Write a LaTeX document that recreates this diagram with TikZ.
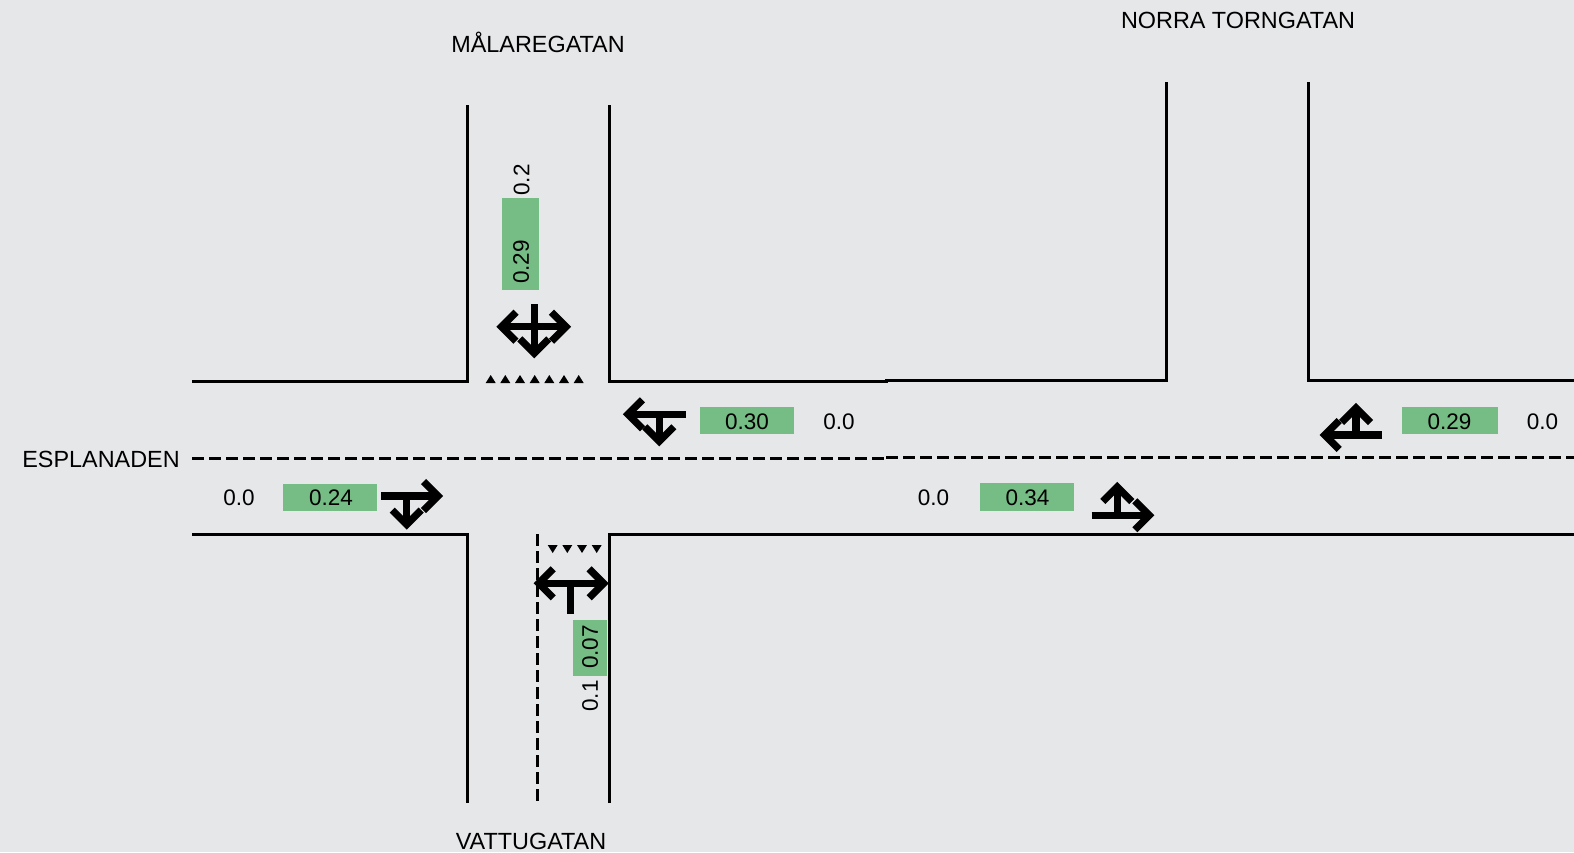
\documentclass[tikz,border=0pt]{standalone}
\usepackage{fontspec}
\setmainfont{Liberation Sans}
\definecolor{paper}{HTML}{E6E7E9}
\definecolor{flowgreen}{HTML}{76BC85}
\tikzset{
  curb/.style={line width=3pt},
  median/.style={line width=3pt,dash pattern=on 12pt off 5pt},
  lane/.style={line width=7.2pt,miter limit=10},
  label/.style={inner sep=0pt,font=\fontsize{22.5}{26}\selectfont},
  street/.style={label,font=\fontsize{23.4}{26}\selectfont},
  flow/.style={fill=flowgreen,inner sep=0pt},
  chevron/.pic={\draw[lane] (-14.5,-14.5) -- (0,0) -- (-14.5,14.5);},
  crossing/.pic={\fill (-5,4) -- (5,4) -- (0,-4) -- cycle;}
}
\begin{document}
\begin{tikzpicture}[x=1pt,y=-1pt]
\useasboundingbox[fill=paper] (0,0) rectangle (1574,852);
% curbs
\draw[curb] (192,381) -- (467.8,381) -- (467.8,105);
\draw[curb] (609,105) -- (609,381) -- (886,381) -- (886,380) -- (1166,380) -- (1166,82);
\draw[curb] (1308.5,82) -- (1308.5,380) -- (1574,380);
\draw[curb] (192,534) -- (467.8,534) -- (467.8,803);
\draw[curb] (609,803) -- (609,534) -- (1574,534);
\draw[median] (192,458.5) -- (886,458.5);
\draw[median] (886,457.5) -- (1574,457.5);
\draw[median] (537.7,534) -- (537.7,803);
% crossings
\foreach \x in {490.7,505.3,520,534.7,549.3,564,578.7}
  \pic at (\x,379) {crossing};
\foreach \x in {552.7,567.3,582,596.7}
  \pic[rotate=180] at (\x,549) {crossing};
% flow boxes
\node[flow,minimum width=37.3pt,minimum height=92pt] (boxN) at (520.7,244) {};
\node[flow,minimum width=94pt,minimum height=27.3pt] (boxE) at (747,420.4) {};
\node[flow,minimum width=94pt,minimum height=27pt] (boxW) at (330.2,497.5) {};
\node[flow,minimum width=33.7pt,minimum height=56pt] (boxS) at (590.2,648) {};
\node[flow,minimum width=94pt,minimum height=28pt] (boxM) at (1027,497) {};
\node[flow,minimum width=96pt,minimum height=27.5pt] (boxR) at (1450,420.3) {};
% values
\node[label,rotate=90] (flowN) at (521,262) {0.29};
\node[label,rotate=90] (restN) at (521.5,180) {0.2};
\node[label] (flowE) at (747,422) {0.30};
\node[label] (restE) at (839,422) {0.0};
\node[label] (flowW) at (331,498) {0.24};
\node[label] (restW) at (239,498) {0.0};
\node[label,rotate=90] (flowS) at (590,647) {0.07};
\node[label,rotate=90] (restS) at (590,696) {0.1};
\node[label] (flowM) at (1027.5,498) {0.34};
\node[label] (restM) at (933.5,498) {0.0};
\node[label] (flowR) at (1449.5,421.5) {0.29};
\node[label] (restR) at (1542.5,421.5) {0.0};
% street names
\node[street] (north) at (538,42.5) {MÅLAREGATAN};
\node[street] (torn) at (1238,20.5) {NORRA TORNGATAN};
\node[street] (espl) at (101,459.5) {ESPLANADEN};
\node[street] (south) at (531,841.5) {VATTUGATAN};
% lane arrows
\draw[lane] (501.5,326.7) -- (566,326.7);
\draw[lane] (534.3,304) -- (534.3,353.3);
\pic at (566,326.7) {chevron};
\pic[rotate=180] at (501.5,326.7) {chevron};
\pic[rotate=270] at (534.3,353.3) {chevron};
\draw[lane] (685.7,414.3) -- (628,414.3);
\draw[lane] (659.3,414.3) -- (659.3,441.3);
\pic[rotate=180] at (628,414.3) {chevron};
\pic[rotate=270] at (659.3,441.3) {chevron};
\draw[lane] (381,496) -- (438,496);
\draw[lane] (406.7,496) -- (406.7,524.6);
\pic at (438,496) {chevron};
\pic[rotate=270] at (406.7,524.6) {chevron};
\draw[lane] (538.7,583.3) -- (603.6,583.3);
\draw[lane] (570.7,583.3) -- (570.7,614);
\pic at (603.6,583.3) {chevron};
\pic[rotate=180] at (538.7,583.3) {chevron};
\draw[lane] (1091.7,515.3) -- (1149.3,515.3);
\draw[lane] (1117.3,515.3) -- (1117.3,487);
\pic at (1149.3,515.3) {chevron};
\pic[rotate=90] at (1117.3,487) {chevron};
\draw[lane] (1381.7,435) -- (1324.7,435);
\draw[lane] (1356,435) -- (1356,408);
\pic[rotate=180] at (1324.7,435) {chevron};
\pic[rotate=90] at (1356,408) {chevron};
\end{tikzpicture}
\end{document}
